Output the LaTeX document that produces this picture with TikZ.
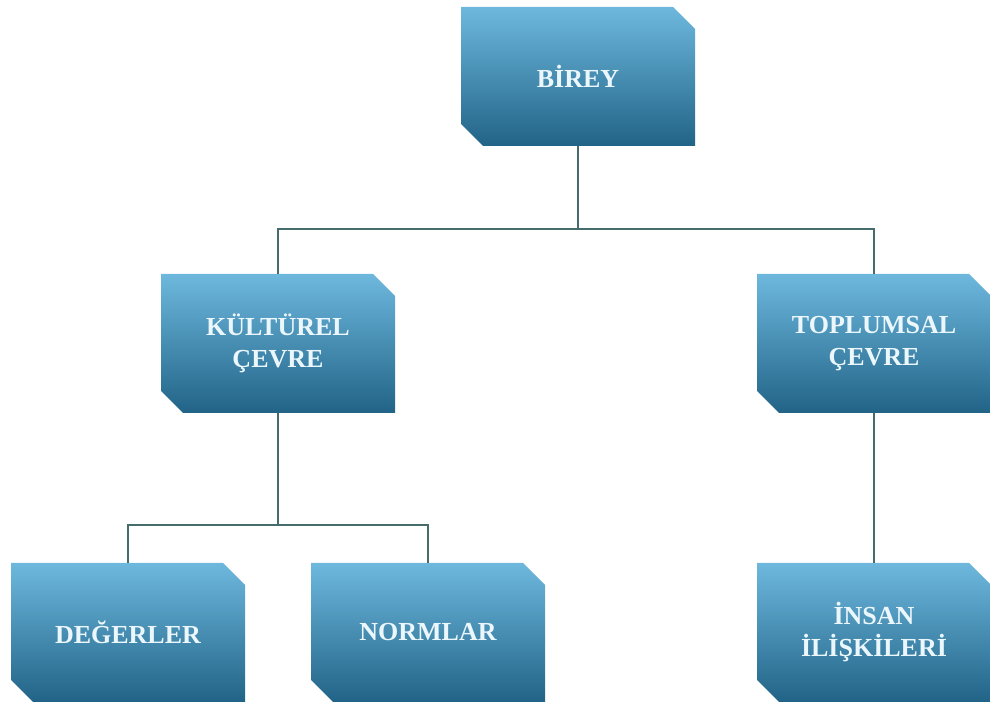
\documentclass[tikz,border=0pt]{standalone}
\usepackage{fontspec}
\setmainfont{Liberation Serif}
\usetikzlibrary{positioning}
\definecolor{mtop}{rgb}{0.43, 0.72, 0.87}
\definecolor{mmid}{rgb}{0.16, 0.58, 0.78}
\definecolor{mbot}{rgb}{0.13, 0.39, 0.53}
\definecolor{mline}{rgb}{0.27, 0.42, 0.42}
\definecolor{mtext}{rgb}{0.92, 0.97, 0.99}
\tikzset{cbox/.style = {minimum width = 234, minimum height = 139, inner sep = 0,
    align = center, text = mtext, font = \bfseries\fontsize{26}{32}\selectfont,
    path picture = {
      \shade [top color = mtop, middle color = mmid, bottom color = mbot]
        (path picture bounding box.north west)
        -- ([xshift = -22]path picture bounding box.north east)
        -- ([yshift = -22]path picture bounding box.north east)
        -- (path picture bounding box.south east)
        -- ([xshift = 22]path picture bounding box.south west)
        -- ([yshift = 22]path picture bounding box.south west) -- cycle;
    }}}
\tikzset{link/.style = {mline, line width = 1.9}}

\begin{document}
\begin{tikzpicture}[x = 1pt, y = 1pt]
          \useasboundingbox (0, 0) rectangle (990, 706);
          \node [cbox] (birey) at (578, 629.5) {B\.IREY};
          \node [cbox] (kultur) at (278, 362.5) {KÜLTÜREL\\ÇEVRE};
          \node [cbox] (toplum) at (874, 362.5) {TOPLUMSAL\\ÇEVRE};
          \node [cbox] (degerler) at (128, 73.5) {DEĞERLER};
          \node [cbox] (normlar) at (428, 73.5) {NORMLAR};
          \node [cbox] (insan) at (874, 73.5) {\.INSAN\\\.IL\.IŞK\.ILER\.I};
          \coordinate (bus1) at (578, 477);
          \coordinate (bus2) at (278, 181);
          \draw [link] (birey.south) -- (bus1);
          \draw [link] (kultur.north) |- (bus1) -| (toplum.north);
          \draw [link] (kultur.south) -- (bus2);
          \draw [link] (degerler.north) |- (bus2) -| (normlar.north);
          \draw [link] (toplum.south) -- (insan.north);
        \end{tikzpicture}
\end{document}
